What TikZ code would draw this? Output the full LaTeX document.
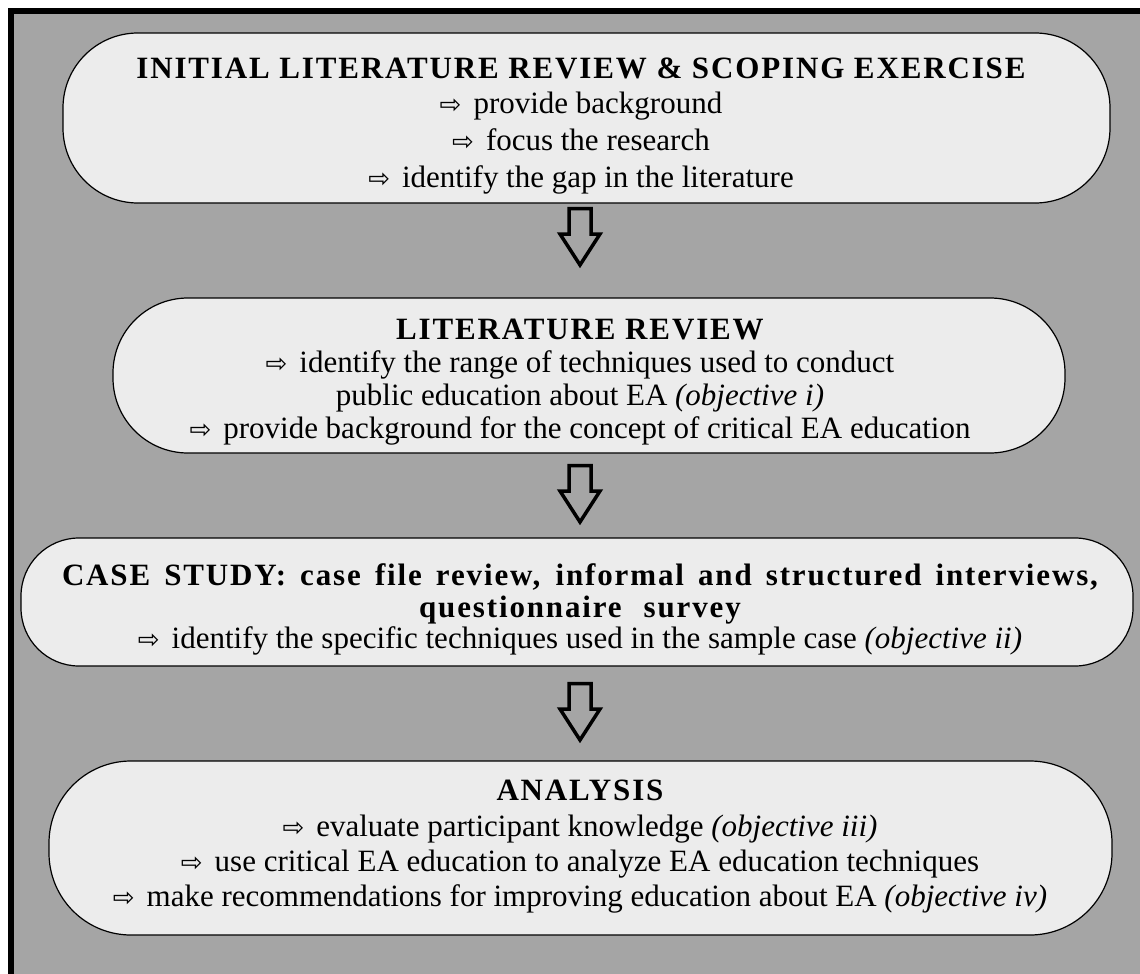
\documentclass[tikz,border=0pt]{standalone}
\usepackage{fontspec}
\setmainfont{Liberation Serif}
\newfontfamily\symfont{DejaVu Sans}
\usetikzlibrary{calc}
\definecolor{bggray}{RGB}{165,165,165}
\definecolor{boxfill}{RGB}{236,236,236}
\newcommand{\bodysize}{\fontsize{31}{36}\selectfont}
\newcommand{\headsize}{\fontsize{31}{36}\selectfont\bfseries\addfontfeatures{LetterSpace=6}}
\newcommand{\bul}{{\symfont\fontsize{26}{26}\selectfont\raisebox{0pt}{⇨}}\hspace{12pt}}
\begin{document}
\begin{tikzpicture}[x=1pt,y=-1pt,
  stage/.style={draw=black, line width=1.2pt, fill=boxfill, rounded corners=#1, inner sep=0pt},
  ttl/.style={anchor=base, inner sep=0pt, font=\headsize},
  txt/.style={anchor=base, inner sep=0pt, font=\bodysize},
  downarrow/.pic={
    \draw[line width=3.5pt, fill=bggray, line join=miter]
      (-11,1.5) -- (11,1.5) -- (11,27) -- (20,27) -- (0,58) -- (-20,27) -- (-11,27) -- cycle;
  }]
\useasboundingbox (0,0) rectangle (1140,974);
% page background and frame
\fill[bggray] (8,8) rectangle (1140,974);
\draw[line width=6pt] (11,974) -- (11,11) -- (1140,11);

% stage 1
\node[stage=75pt, minimum width=1047pt, minimum height=170pt] (b1) at (586.5,118) {};
\node[ttl] (b1t) at (581,78) {INITIAL LITERATURE REVIEW \& SCOPING EXERCISE};
\node[txt] (b1a) at (581,113) {\bul provide background};
\node[txt] (b1b) at (581,150) {\bul focus the research};
\node[txt] (b1c) at (581,187) {\bul identify the gap in the literature};

% stage 2
\node[stage=75pt, minimum width=952pt, minimum height=155pt] (b2) at (589,375.5) {};
\node[ttl] (b2t) at (580,339) {LITERATURE REVIEW};
\node[txt] (b2a) at (580,372) {\bul identify the range of techniques used to conduct};
\node[txt] (b2b) at (580,405) {public education about EA \textit{(objective i)}};
\node[txt] (b2c) at (580,438) {\bul provide background for the concept of critical EA education};

% stage 3
\node[stage=58pt, minimum width=1112pt, minimum height=128pt] (b3) at (577,602) {};
\node[ttl] (b3t) at (580,585) {\makebox[1036pt][s]{CASE STUDY: case file review, informal and structured interviews,}};
\node[ttl] (b3u) at (580,617) {questionnaire\hspace{22pt}survey};
\node[txt] (b3a) at (580,648) {\bul identify the specific techniques used in the sample case \textit{(objective ii)}};

% stage 4
\node[stage=82pt, minimum width=1063pt, minimum height=174pt] (b4) at (580.5,848) {};
\node[ttl] (b4t) at (580,800) {ANALYSIS};
\node[txt] (b4a) at (580,836) {\bul evaluate participant knowledge \textit{(objective iii)}};
\node[txt] (b4b) at (580,871) {\bul use critical EA education to analyze EA education techniques};
\node[txt] (b4c) at (580,906) {\bul make recommendations for improving education about EA \textit{(objective iv)}};

% flow arrows between stages
\pic at (580,207) {downarrow};
\pic at (580,464) {downarrow};
\pic at (580,682) {downarrow};
\end{tikzpicture}
\end{document}
